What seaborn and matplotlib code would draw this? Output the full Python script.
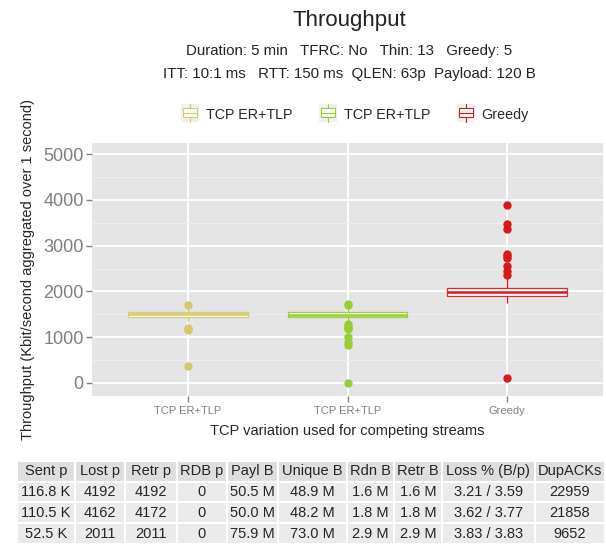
import numpy as np
import pandas as pd
import matplotlib
matplotlib.use('Agg')
import matplotlib.pyplot as plt
from matplotlib.patches import Rectangle
from matplotlib.lines import Line2D
from matplotlib.legend_handler import HandlerBase
import seaborn as sns

# throughput samples (Kbit/s)
er_tlp_a = [380, 1160, 1180, 1210, 1340, 1450, 1460, 1470, 1480, 1490, 1500,
            1510, 1520, 1530, 1540, 1550, 1560, 1580, 1620, 1660, 1710]
er_tlp_b = [10, 820, 900, 1010, 1170, 1200, 1240, 1280, 1310, 1440,
            1445, 1450, 1455, 1460, 1465, 1470, 1475, 1480, 1490,
            1495, 1500, 1505, 1510, 1515, 1520, 1525, 1530, 1540,
            1550, 1560, 1570, 1590, 1610, 1640, 1670, 1700, 1730]
greedy = [110, 1750, 1790, 1820, 1840, 1860, 1870, 1880, 1890, 1900, 1910,
          1920, 1930, 1940, 1950, 1955, 1960, 1970, 1975, 1980, 1990,
          2000, 2010, 2020, 2030, 2040, 2050, 2060, 2065, 2070, 2080,
          2290, 2360, 2440, 2560, 2740, 2770, 2810, 3360, 3470, 3890]

groups = ['a', 'b', 'c']
labels = ['TCP ER+TLP', 'TCP ER+TLP', 'Greedy']
colors = ['#d4c96c', '#9acd32', '#d7191c']
yticks = [0, 1000, 2000, 3000, 4000, 5000]

tbl_cols = ['Sent p', 'Lost p', 'Retr p', 'RDB p', 'Payl B', 'Unique B',
            'Rdn B', 'Retr B', 'Loss % (B/p)', 'DupACKs']
tbl_rows = [
    ['116.8 K', '4192', '4192', '0', '50.5 M', '48.9 M', '1.6 M', '1.6 M', '3.21 / 3.59', '22959'],
    ['110.5 K', '4162', '4172', '0', '50.0 M', '48.2 M', '1.8 M', '1.8 M', '3.62 / 3.77', '21858'],
    ['52.5 K', '2011', '2011', '0', '75.9 M', '73.0 M', '2.9 M', '2.9 M', '3.83 / 3.83', '9652'],
]
col_w = [58, 50, 52, 50, 51, 69, 47, 48, 93, 70]

df = pd.concat([
    pd.DataFrame({'grp': g, 'val': v})
    for g, v in zip(groups, [er_tlp_a, er_tlp_b, greedy])
])

sns.set_theme(style='darkgrid')
plt.rcParams['font.family'] = ['Liberation Sans', 'DejaVu Sans']

fig = plt.figure(figsize=(6.06, 5.44), dpi=100)
ax = fig.add_axes([0.152, 0.272, 0.843, 0.465])
ax.set_facecolor('#e5e5e5')

for g, c in zip(groups, colors):
    sns.boxplot(data=df[df['grp'] == g], x='grp', y='val', order=groups,
                color=c, linecolor=c, saturation=1, width=0.75, showcaps=False,
                linewidth=0.9, ax=ax,
                medianprops=dict(linewidth=1.8, color=c),
                flierprops=dict(marker='o', markersize=5, markerfacecolor=c,
                                markeredgecolor=c))
for p in ax.patches:
    p.set_facecolor('white')
    p.set_alpha(0.9)

ax.set_ylim(-285, 5240)
ax.set_xlim(-0.6, 2.6)
ax.set_yticks(yticks)
ax.set_yticks([500, 1500, 2500, 3500, 4500], minor=True)
ax.grid(which='major', color='white', linewidth=1.3)
ax.grid(which='minor', axis='y', color='#f0f0f0', linewidth=0.6)
ax.set_axisbelow(True)
ax.set_xticks(range(3))
ax.set_xticklabels(labels, fontsize=8, color='#7f7f7f')
ax.tick_params(axis='y', labelsize=13, labelcolor='#7f7f7f', length=4,
               width=1, color='#7f7f7f', left=True, pad=2)
ax.tick_params(axis='x', length=4, width=1, color='#7f7f7f', bottom=True, pad=3)
for s in ax.spines.values():
    s.set_visible(False)
ax.set_xlabel('TCP variation used for competing streams', fontsize=10.5, labelpad=6)
ax.set_ylabel('Throughput (Kbit/second aggregated over 1 second)', fontsize=10.5,
              labelpad=6)

fig.text(0.576, 0.963, 'Throughput', ha='center', va='center', fontsize=16,
         color='#222222')
fig.text(0.576, 0.906, 'Duration: 5 min   TFRC: No   Thin: 13   Greedy: 5',
         ha='center', va='center', fontsize=10.8, color='#222222')
fig.text(0.576, 0.864, 'ITT: 10:1 ms   RTT: 150 ms  QLEN: 63p  Payload: 120 B',
         ha='center', va='center', fontsize=10.8, color='#222222')


class BoxKey(HandlerBase):
    def create_artists(self, legend, orig, xd, yd, w, h, fs, trans):
        c = orig.get_edgecolor()
        s = w
        x0 = xd
        y0 = yd + h / 2 - s / 2
        bg = Rectangle((x0, y0), s, s, facecolor='#f0f0f0', edgecolor='none',
                       transform=trans)
        box = Rectangle((x0 + 0.1 * s, y0 + 0.25 * s), 0.8 * s, 0.5 * s,
                        facecolor='white', edgecolor=c, linewidth=0.8,
                        transform=trans)
        med = Line2D([x0 + 0.1 * s, x0 + 0.9 * s], [y0 + 0.5 * s] * 2,
                     color=c, linewidth=0.8, transform=trans)
        wt = Line2D([x0 + 0.5 * s] * 2, [y0 + 0.75 * s, y0 + s], color=c,
                    linewidth=0.8, transform=trans)
        wb = Line2D([x0 + 0.5 * s] * 2, [y0, y0 + 0.25 * s], color=c,
                    linewidth=0.8, transform=trans)
        return [bg, box, med, wt, wb]


handles = [Rectangle((0, 0), 1, 1, edgecolor=c, facecolor='white') for c in colors]
fig.legend(handles, labels, handler_map={Rectangle: BoxKey()}, loc='center',
           bbox_to_anchor=(0.586, 0.789), ncol=3, frameon=False, fontsize=10.3,
           handlelength=1.25, handleheight=0.8, handletextpad=0.45,
           columnspacing=1.9)

tax = fig.add_axes([0.028, 0.0, 0.97, 0.153])
tax.axis('off')
tw = np.array(col_w) / sum(col_w)
tbl = tax.table(cellText=tbl_rows, colLabels=tbl_cols, colWidths=tw,
                cellLoc='center', bbox=[0, 0, 1, 1])
tbl.auto_set_font_size(False)
tbl.set_fontsize(10.5)
for (r, ccol), cell in tbl.get_celld().items():
    cell.set_edgecolor('white')
    cell.set_linewidth(1.5)
    cell.set_facecolor('#dedede' if r == 0 else '#ebebeb')
    cell.PAD = 0.02

fig.savefig('out.png', dpi=100)
